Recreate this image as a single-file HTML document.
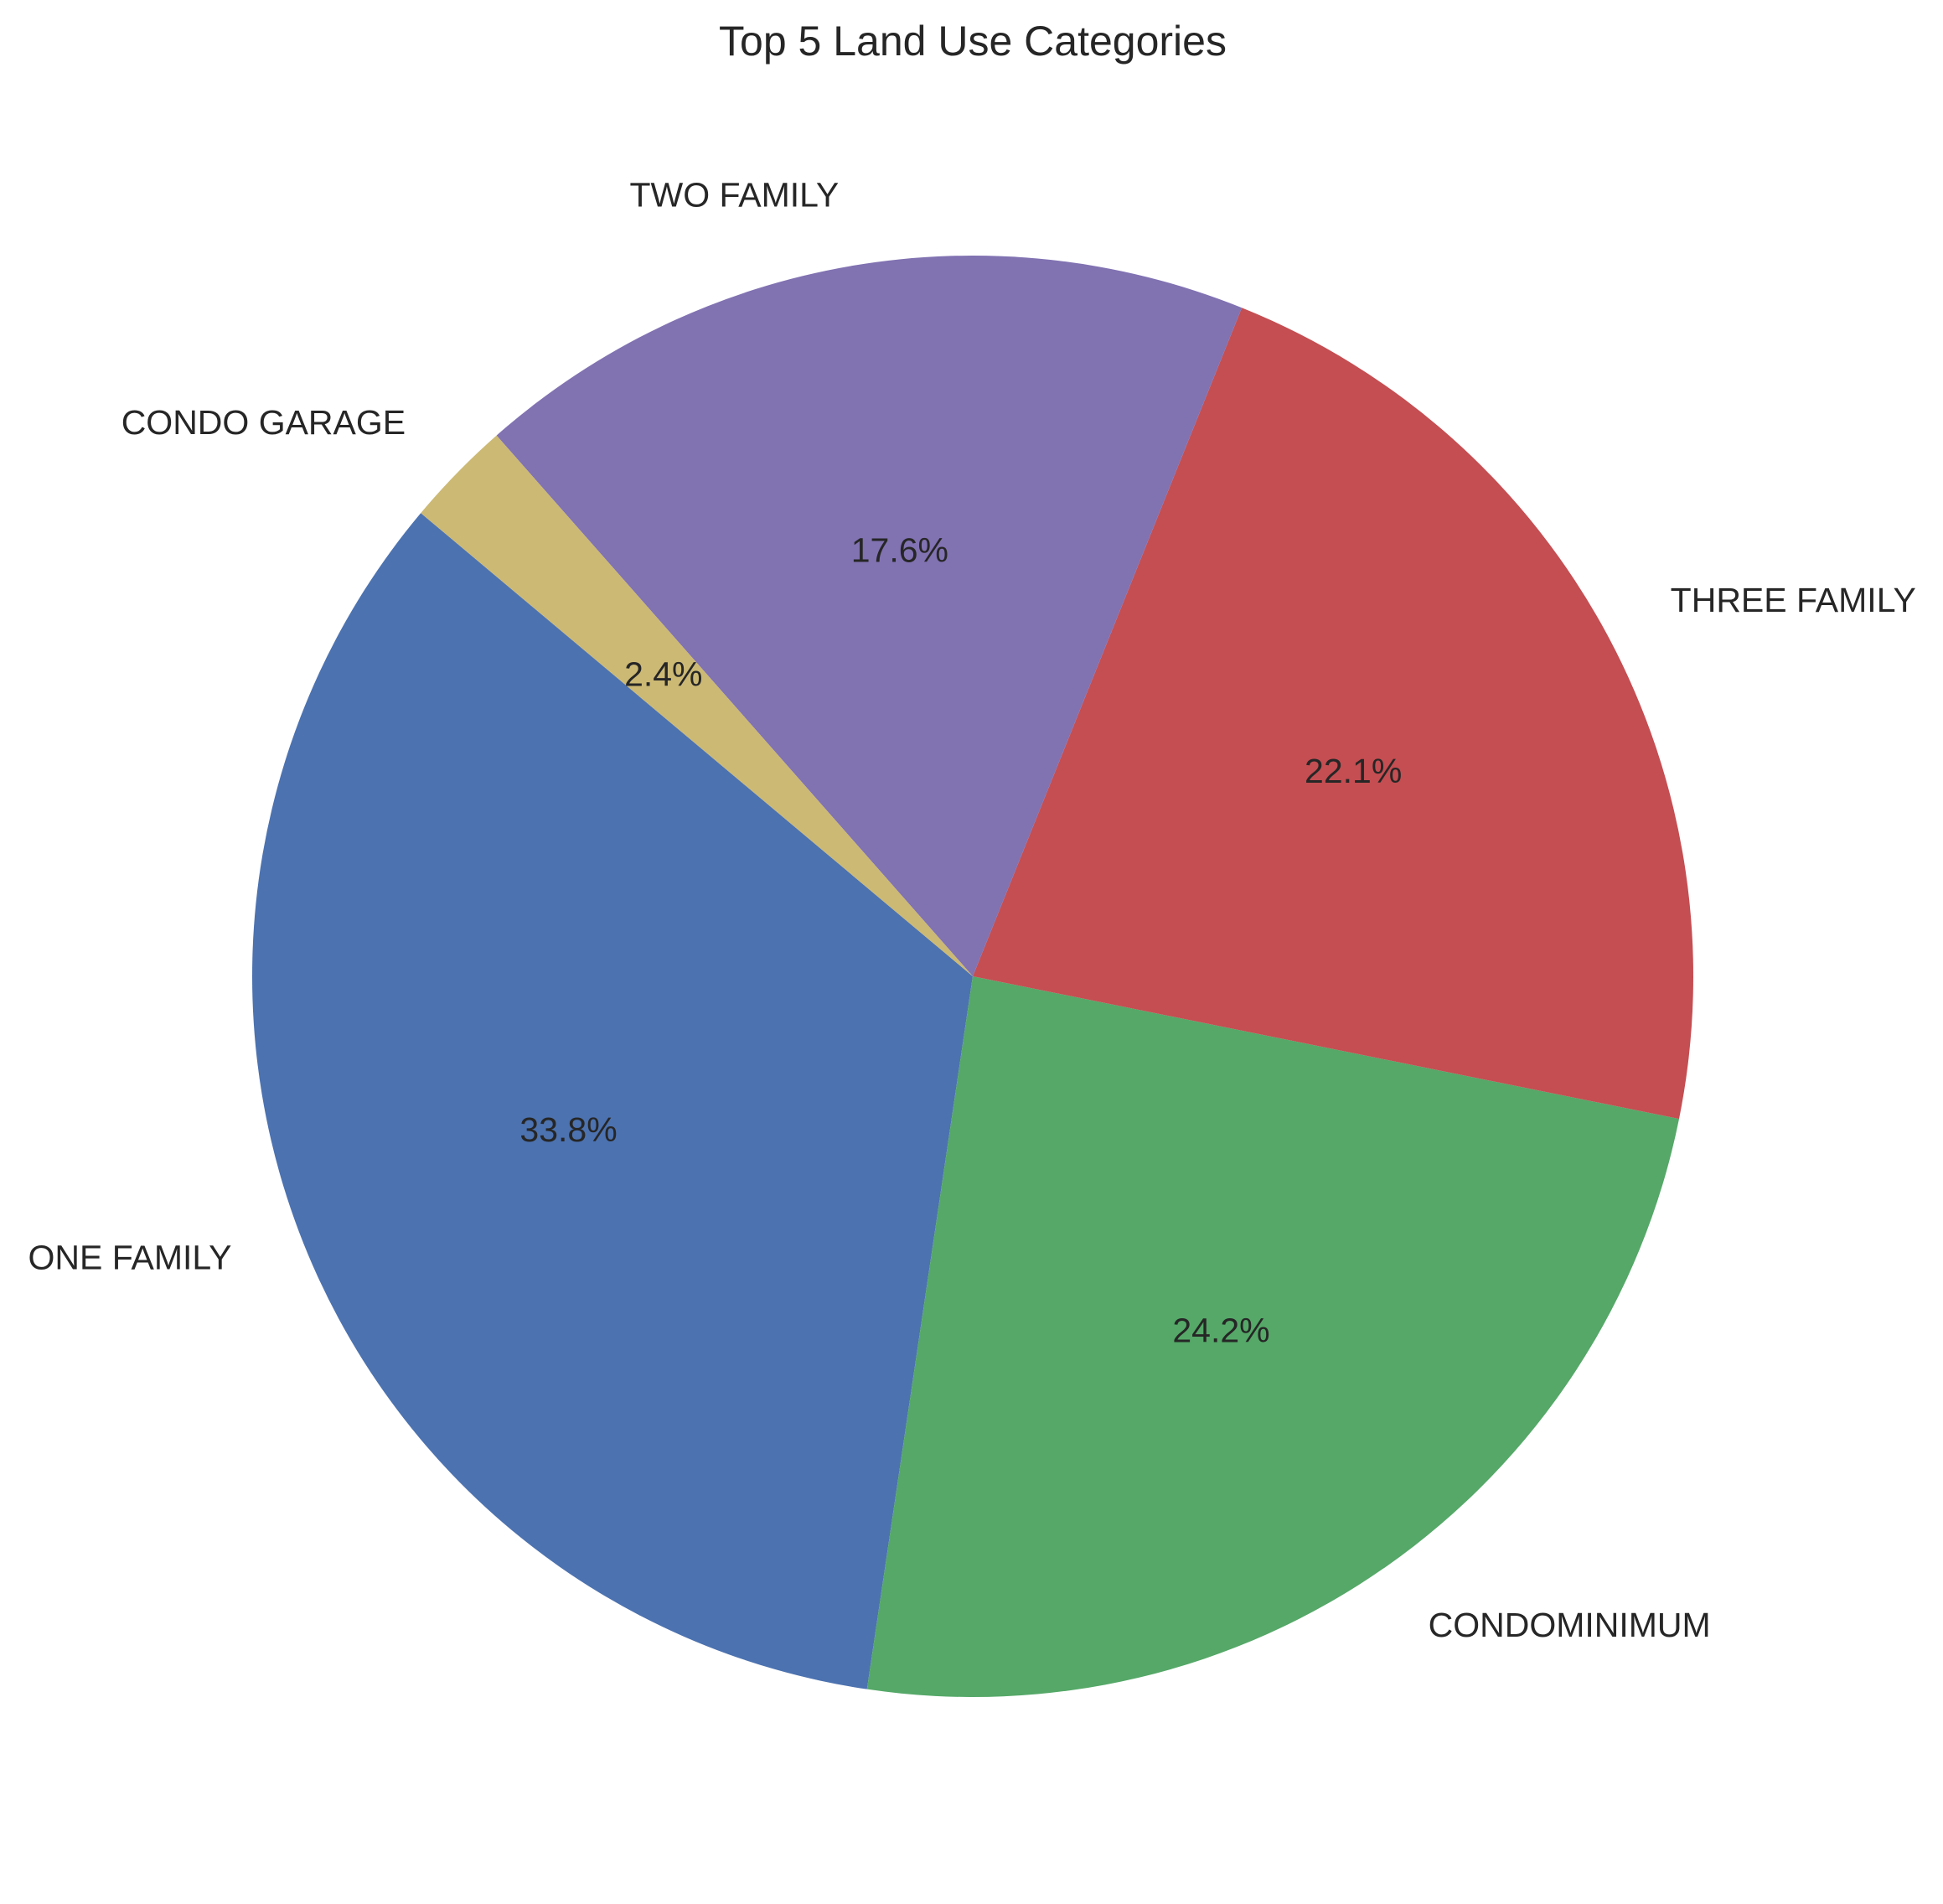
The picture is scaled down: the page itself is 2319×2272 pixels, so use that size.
<!DOCTYPE html>
<html>
<head>
<meta charset="utf-8">
<style>
  html,body{margin:0;padding:0;background:#fff;}
  svg{display:block;}
  text{font-family:"Liberation Sans",Arial,sans-serif;fill:#262626;}
</style>
</head>
<body>
<svg id="chart" width="2319" height="2272" viewBox="0 0 2319 2272" xmlns="http://www.w3.org/2000/svg">
  <text x="1161" y="66" font-size="50" text-anchor="middle">Top 5 Land Use Categories</text>
  <g id="slices"></g>
  <g id="labels"></g>
</svg>
<script>
const categories = ["ONE FAMILY", "CONDOMINIMUM", "THREE FAMILY", "TWO FAMILY", "CONDO GARAGE"];
const values = [33.8, 24.2, 22.1, 17.6, 2.4];
const colors = ["#4C72B0", "#55A868", "#C44E52", "#8172B2", "#CCB974"];
const startAngle = 140;

const cx = 1161, cy = 1165, r = 860;
const NS = "http://www.w3.org/2000/svg";
const slicesG = document.getElementById("slices");
const labelsG = document.getElementById("labels");
const total = values.reduce((a, b) => a + b, 0);
function pt(deg, rad) {
  const t = deg * Math.PI / 180;
  return [cx + rad * Math.cos(t), cy - rad * Math.sin(t)];
}
let a0 = startAngle;
values.forEach((v, i) => {
  const sweep = v / total * 360;
  const a1 = a0 + sweep;
  const p0 = pt(a0, r), p1 = pt(a1, r);
  const large = sweep > 180 ? 1 : 0;
  const path = document.createElementNS(NS, "path");
  path.setAttribute("d", `M${cx},${cy} L${p0[0]},${p0[1]} A${r},${r} 0 ${large} 0 ${p1[0]},${p1[1]} Z`);
  path.setAttribute("fill", colors[i]);
  
  
  slicesG.appendChild(path);

  const mid = (a0 + a1) / 2;
  const lp = pt(mid, r * 1.1);
  const lab = document.createElementNS(NS, "text");
  lab.setAttribute("x", lp[0]);
  lab.setAttribute("y", lp[1]);
  lab.setAttribute("font-size", "41");
  lab.setAttribute("dominant-baseline", "central");
  lab.setAttribute("text-anchor", Math.cos(mid * Math.PI / 180) >= 0 ? "start" : "end");
  lab.textContent = categories[i];
  
  
  labelsG.appendChild(lab);

  const pp = pt(mid, r * 0.6);
  const pct = document.createElementNS(NS, "text");
  pct.setAttribute("x", pp[0]);
  pct.setAttribute("y", pp[1]);
  pct.setAttribute("font-size", "41");
  pct.setAttribute("dominant-baseline", "central");
  pct.setAttribute("text-anchor", "middle");
  pct.textContent = (v / total * 100).toFixed(1) + "%";
  
  
  labelsG.appendChild(pct);

  a0 = a1;
});
</script>
</body>
</html>
